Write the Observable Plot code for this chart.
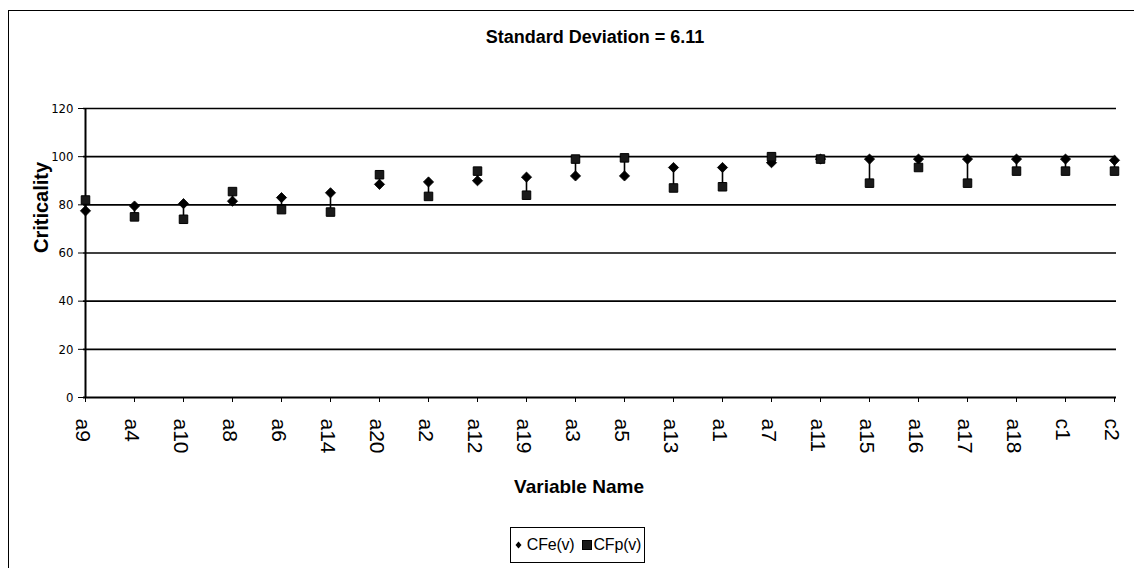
<!DOCTYPE html>
<html>
<head>
<meta charset="utf-8">
<script src="https://cdn.jsdelivr.net/npm/d3@7"></script>
<script src="https://cdn.jsdelivr.net/npm/@observablehq/plot@0.6"></script>
<style>
  html, body { margin: 0; padding: 0; background: #fff; }
  #wrap { position: relative; width: 1134px; height: 575px; overflow: hidden; font-family: "Liberation Sans", Arial, sans-serif; }
  #frame { position: absolute; left: 8px; top: 10px; width: 1140px; height: 557px; border-top: 1.5px solid #000; border-left: 1.5px solid #000; }
  #title { position: absolute; left: 395px; width: 400px; top: 27px; text-align: center; font-weight: bold; font-size: 18px; color: #000; }
  #chart { position: absolute; left: 0; top: 60px; }
  #legend { position: absolute; left: 510px; top: 527px; width: 133px; height: 34px; border: 1.5px solid #000; display: flex; align-items: center; justify-content: center; font-size: 16px; letter-spacing: -0.2px; color: #000; white-space: nowrap; }
  #legend svg { flex-shrink: 0; display: block; }
  #legend span { flex-shrink: 0; }
</style>
</head>
<body>
<div id="wrap">
  <div id="frame"></div>
  <div id="title">Standard Deviation = 6.11</div>
  <div id="chart"></div>
  <div id="legend"></div>
</div>
<script>
const names = ["a9","a4","a10","a8","a6","a14","a20","a2","a12","a19","a3","a5","a13","a1","a7","a11","a15","a16","a17","a18","c1","c2"];
const cfe = [77.5, 79.5, 80.5, 81.5, 83, 85, 88.5, 89.5, 90, 91.5, 92, 92, 95.5, 95.5, 97.5, 99, 99, 99, 99, 99, 99, 98.5];
const cfp = [82, 75, 74, 85.5, 78, 77, 92.5, 83.5, 94, 84, 99, 99.5, 87, 87.5, 100, 99, 89, 95.5, 89, 94, 94, 94];
const yTicks = [0, 20, 40, 60, 80, 100, 120];
const seriesNames = ["CFe(v)", "CFp(v)"];

const rows = names.map((n, i) => ({name: n, e: cfe[i], p: cfp[i]}));

const chart = Plot.plot({
  width: 1134,
  height: 450,
  marginLeft: 83,
  marginRight: 18,
  marginTop: 48,
  marginBottom: 113,
  style: {fontFamily: "'Liberation Sans', Arial, sans-serif", color: "#000", background: "transparent"},
  x: {type: "point", domain: names, padding: 0},
  y: {domain: [0, 120]},
  marks: [
    Plot.ruleY(yTicks.slice(1), {stroke: "#000", strokeWidth: 1.6}),
    Plot.ruleY([0], {stroke: "#000", strokeWidth: 2}),
    Plot.ruleX([names[0]], {y1: 0, y2: 120, stroke: "#000", strokeWidth: 2}),
    Plot.axisY({ticks: yTicks, tickSize: 5, tickPadding: 5, label: null, fontSize: 13,
      fontFamily: "'Liberation Sans Narrow', 'Arial Narrow', 'DejaVu Sans Condensed', sans-serif", stroke: "#000"}),
    Plot.axisX({tickSize: 5, tickFormat: () => "", label: null, stroke: "#000"}),
    Plot.text(names, {x: d => d, frameAnchor: "bottom", rotate: 90, textAnchor: "start", lineAnchor: "middle",
      dy: 21, dx: -3, fontSize: 21, fill: "#000"}),
    Plot.text(["Variable Name"], {frameAnchor: "bottom", dy: 95, dx: -21, fontSize: 19, fontWeight: "bold", fill: "#000"}),
    Plot.text(["Criticality"], {frameAnchor: "left", dx: -42, rotate: -90, fontSize: 20, fontWeight: "bold", fill: "#000"}),
    Plot.ruleX(rows, {x: "name", y1: "e", y2: "p", stroke: "#000", strokeWidth: 1.6}),
    Plot.dot(rows, {x: "name", y: "e", symbol: "diamond2", r: 4.6, fill: "#000", stroke: "#000", strokeWidth: 0.8}),
    Plot.dot(rows, {x: "name", y: "p", symbol: "square", r: 4.8, fill: "#1a1a1a", stroke: "#000", strokeWidth: 1})
  ]
});
document.getElementById("chart").appendChild(chart);

const legend = document.getElementById("legend");
legend.innerHTML =
  `<svg width="9" height="12" style="margin-right:4px"><path d="M4.5,2.5 L7.5,6 L4.5,9.5 L1.5,6Z" fill="#000"/></svg><span>${seriesNames[0]}</span>` +
  `<svg width="13" height="12" style="margin-left:6px"><rect x="1.5" y="1.5" width="9" height="9" fill="#1a1a1a" stroke="#000"/></svg><span>${seriesNames[1]}</span>`;
</script>
</body>
</html>
